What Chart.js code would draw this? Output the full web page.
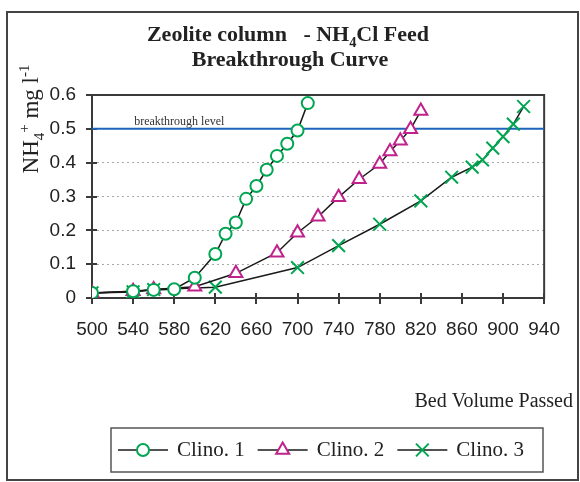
<!DOCTYPE html>
<html>
<head>
<meta charset="utf-8">
<script src="https://cdn.jsdelivr.net/npm/chart.js@4.4.1/dist/chart.umd.min.js"></script>
<style>
html, body { margin: 0; padding: 0; background: #fff; }
</style>
</head>
<body>
<canvas id="myChart" width="580" height="482"></canvas>
<script>
// values
const bedVolume1 = [500, 540, 560, 580, 600, 620, 630, 640, 650, 660, 670, 680, 690, 700, 710];
const clino1 = [0.015, 0.02, 0.024, 0.026, 0.06, 0.13, 0.19, 0.223, 0.293, 0.331, 0.379, 0.42, 0.456, 0.495, 0.576];
const bedVolume2 = [500, 540, 560, 600, 640, 680, 700, 720, 740, 760, 780, 790, 800, 810, 820];
const clino2 = [0.015, 0.02, 0.025, 0.033, 0.073, 0.134, 0.193, 0.24, 0.298, 0.351, 0.396, 0.433, 0.465, 0.499, 0.553];
const bedVolume3 = [500, 540, 560, 620, 700, 740, 780, 820, 850, 870, 880, 890, 900, 910, 920];
const clino3 = [0.015, 0.018, 0.025, 0.032, 0.09, 0.155, 0.218, 0.287, 0.357, 0.387, 0.408, 0.443, 0.477, 0.514, 0.566];
const seriesNames = ['Clino. 1', 'Clino. 2', 'Clino. 3'];
const xTicks = [500, 540, 580, 620, 660, 700, 740, 780, 820, 860, 900, 940];
const yTicks = [0, 0.1, 0.2, 0.3, 0.4, 0.5, 0.6];
const breakthroughLevel = 0.5;

const green = 'rgb(0,166,81)';
const magenta = 'rgb(192,34,140)';
const blue = 'rgb(30,100,190)';
const serif = '"Liberation Serif", "Times New Roman", serif';
const sans = '"Liberation Sans", Arial, sans-serif';

function toPoints(xs, ys) {
    return xs.map((x, i) => ({ x: x, y: ys[i] }));
}

// draw text pieces with sub/superscripts, starting at x, baseline y
function drawRich(ctx, parts, x, y, size, weight) {
    parts.forEach(p => {
        const s = p.sub || p.sup ? size * 0.65 : size;
        ctx.font = weight + ' ' + s + 'px ' + serif;
        const dy = p.sub ? size * 0.25 : (p.sup ? -size * 0.4 : 0);
        ctx.fillText(p.t, x, y + dy);
        x += ctx.measureText(p.t).width;
    });
    return x;
}
function richWidth(ctx, parts, size, weight) {
    let w = 0;
    parts.forEach(p => {
        const s = p.sub || p.sup ? size * 0.65 : size;
        ctx.font = weight + ' ' + s + 'px ' + serif;
        w += ctx.measureText(p.t).width;
    });
    return w;
}

const decorations = {
    id: 'decorations',
    beforeDatasetsDraw(chart) {
        const ctx = chart.ctx;
        const a = chart.chartArea;
        const xs = chart.scales.x, ys = chart.scales.y;
        ctx.save();
        ctx.strokeStyle = '#3a3a3a';
        ctx.lineWidth = 2;
        ctx.strokeRect(a.left, a.top, a.right - a.left, a.bottom - a.top);
        ctx.beginPath();
        xTicks.forEach(v => {
            const px = Math.round(xs.getPixelForValue(v));
            ctx.moveTo(px, a.bottom - 5);
            ctx.lineTo(px, a.bottom + 6);
        });
        yTicks.forEach(v => {
            const py = Math.round(ys.getPixelForValue(v));
            ctx.moveTo(a.left - 6, py);
            ctx.lineTo(a.left + 5, py);
        });
        ctx.stroke();
        ctx.fillStyle = '#333';
        ctx.font = '12px ' + serif;
        ctx.textBaseline = 'alphabetic';
        ctx.fillText('breakthrough level', xs.getPixelForValue(541), ys.getPixelForValue(breakthroughLevel) - 4);
        ctx.restore();
    },
    afterDraw(chart) {
        const ctx = chart.ctx;
        ctx.save();
        // outer frame
        ctx.strokeStyle = '#444';
        ctx.lineWidth = 2;
        ctx.strokeRect(7, 12, 571, 468);

        ctx.fillStyle = '#222';
        ctx.textBaseline = 'alphabetic';
        const line1 = [{ t: 'Zeolite column   - NH' }, { t: '4', sub: true }, { t: 'Cl Feed' }];
        const w1 = richWidth(ctx, line1, 22, 'bold');
        drawRich(ctx, line1, 288 - w1 / 2, 41, 22, 'bold');
        const line2 = [{ t: 'Breakthrough Curve' }];
        const w2 = richWidth(ctx, line2, 22, 'bold');
        drawRich(ctx, line2, 290 - w2 / 2, 66, 22, 'bold');

        // y axis title
        const yTitle = [{ t: 'NH' }, { t: '4', sub: true }, { t: '+', sup: true }, { t: ' mg l' }, { t: '-1', sup: true }];
        const wy = richWidth(ctx, yTitle, 23, 'normal');
        ctx.save();
        ctx.translate(38, 119);
        ctx.rotate(-Math.PI / 2);
        drawRich(ctx, yTitle, -wy / 2, 0, 23, 'normal');
        ctx.restore();

        // x axis title
        ctx.font = '20px ' + serif;
        ctx.textAlign = 'right';
        ctx.fillText('Bed Volume Passed', 573, 407);
        ctx.textAlign = 'left';

        // legend
        ctx.strokeStyle = '#555';
        ctx.lineWidth = 1.5;
        ctx.strokeRect(111, 428, 432, 44);
        let x = 118;
        const y = 450;
        chart.data.datasets.forEach(ds => {
            if (!seriesNames.includes(ds.label)) return;
            ctx.strokeStyle = '#1a1a1a';
            ctx.lineWidth = 1.5;
            ctx.beginPath();
            ctx.moveTo(x, y);
            ctx.lineTo(x + 50, y);
            ctx.stroke();
            ctx.strokeStyle = ds.pointBorderColor;
            ctx.fillStyle = '#fff';
            ctx.lineWidth = ds.pointBorderWidth;
            Chart.helpers.drawPoint(ctx, { pointStyle: ds.pointStyle, radius: ds.pointRadius, borderWidth: ds.pointBorderWidth, rotation: 0 }, x + 25, y);
            ctx.fillStyle = '#222';
            ctx.font = '21px ' + serif;
            ctx.textBaseline = 'middle';
            ctx.fillText(ds.label, x + 59, y);
            x += 59 + ctx.measureText(ds.label).width + 13;
        });
        ctx.restore();
    }
};

function seriesDataset(label, data, style, color, radius) {
    return {
        label: label,
        data: data,
        borderColor: '#1a1a1a',
        borderWidth: 1.5,
        pointStyle: style,
        pointRadius: radius,
        pointHoverRadius: radius,
        pointBorderColor: color,
        pointBackgroundColor: '#fff',
        pointBorderWidth: 2,
        tension: 0,
        order: 1
    };
}

const ctx = document.getElementById('myChart');
const myChart = new Chart(ctx, {
    type: 'line',
    data: {
        datasets: [
            seriesDataset(seriesNames[0], toPoints(bedVolume1, clino1), 'circle', green, 6),
            seriesDataset(seriesNames[1], toPoints(bedVolume2, clino2), 'triangle', magenta, 7.5),
            seriesDataset(seriesNames[2], toPoints(bedVolume3, clino3), 'crossRot', green, 9),
            {
                label: 'breakthrough level',
                data: [{ x: xTicks[0], y: breakthroughLevel }, { x: xTicks[xTicks.length - 1], y: breakthroughLevel }],
                borderColor: blue,
                borderWidth: 2,
                pointRadius: 0,
                order: 10
            }
        ]
    },
    options: {
        responsive: false,
        animation: false,
        devicePixelRatio: 1,
        layout: { padding: { top: 95, right: 24, left: 0, bottom: 0 } },
        plugins: {
            legend: { display: false },
            title: { display: false },
            tooltip: { enabled: false }
        },
        scales: {
            x: {
                type: 'linear',
                min: 500,
                max: 940,
                afterBuildTicks: s => { s.ticks = xTicks.map(v => ({ value: v })); },
                afterFit: s => { s.height = 184; },
                border: { display: false },
                grid: { display: false, drawTicks: false },
                ticks: {
                    autoSkip: false,
                    maxRotation: 0,
                    padding: 20,
                    color: '#222',
                    font: { family: sans, size: 19 }
                }
            },
            y: {
                min: 0,
                max: 0.6,
                afterBuildTicks: s => { s.ticks = yTicks.map(v => ({ value: v })); },
                afterFit: s => { s.width = 92; },
                border: { display: false, dash: [2, 3] },
                grid: {
                    drawTicks: false,
                    color: c => (c.tick.value > 0 && c.tick.value < 0.55) ? '#a8a8a8' : 'rgba(0,0,0,0)',
                    lineWidth: 1
                },
                ticks: {
                    padding: 16,
                    color: '#222',
                    font: { family: sans, size: 19 },
                    callback: v => v === 0 ? '0' : v.toFixed(1)
                }
            }
        }
    },
    plugins: [decorations]
});
</script>
</body>
</html>
